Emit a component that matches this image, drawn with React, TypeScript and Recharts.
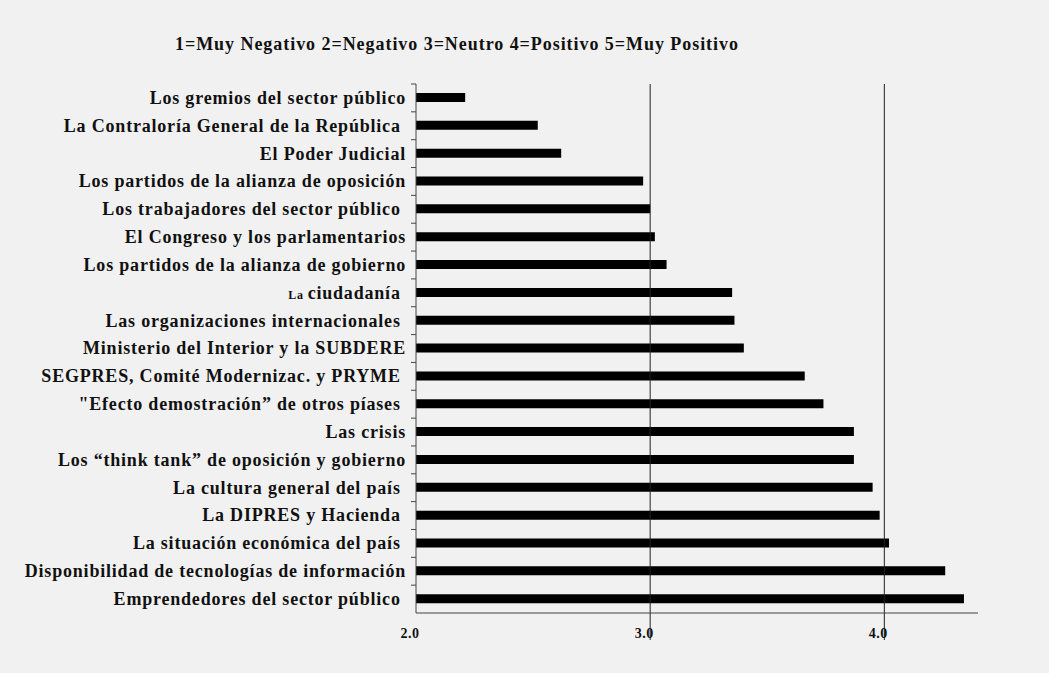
import React from 'react';
import { BarChart, Bar, XAxis, YAxis, ReferenceLine } from 'recharts';

const TITLE = '1=Muy Negativo 2=Negativo 3=Neutro 4=Positivo 5=Muy Positivo';

const categories = [
  'Los gremios del sector público',
  'La Contraloría General de la República ',
  'El Poder Judicial',
  'Los partidos de la alianza de oposición',
  'Los trabajadores del sector público ',
  'El Congreso y los parlamentarios',
  'Los partidos de la alianza de gobierno',
  'La ciudadanía ',
  'Las organizaciones internacionales ',
  'Ministerio del Interior y la SUBDERE',
  'SEGPRES, Comité Modernizac. y PRYME ',
  '"Efecto demostración” de otros píases ',
  'Las crisis',
  'Los “think tank” de oposición y gobierno',
  'La cultura general del país ',
  'La DIPRES y Hacienda ',
  'La situación económica del país ',
  'Disponibilidad de tecnologías de información',
  'Emprendedores del sector público ',
];

const values = [
  2.21, 2.52, 2.62, 2.97, 3.0, 3.02, 3.07, 3.35, 3.36, 3.4,
  3.66, 3.74, 3.87, 3.87, 3.95, 3.98, 4.02, 4.26, 4.34,
];

const xTicks = [2, 3, 4];
const gridValues = [3, 4];
const xDomain: [number, number] = [2, 4.4];

const data = categories.map((name, i) => ({ name, value: values[i] }));

const W = 1049;
const H = 673;
const MARGIN = { top: 84, right: 71, bottom: 30, left: 0 };
const Y_AXIS_W = 416;
const X_AXIS_H = 30;
const PLOT_H = H - MARGIN.top - MARGIN.bottom - X_AXIS_H;
const AXIS_X = MARGIN.left + Y_AXIS_W;
const AXIS_Y = H - MARGIN.bottom - X_AXIS_H;

const FONT = '"Liberation Serif", "Times New Roman", serif';
const AXIS_COLOR = '#444';

const YTick = (props: any) => {
  const { y, payload } = props;
  const step = PLOT_H / categories.length;
  const label: string = payload.value;
  const small = label.startsWith('La ciudadan');
  const ty = y - step / 2;
  return (
    <g>
      <line x1={AXIS_X - 5} x2={AXIS_X} y1={ty} y2={ty} stroke={AXIS_COLOR} strokeWidth={1} />
      <text
        x={AXIS_X - 10}
        y={y}
        dy="0.33em"
        textAnchor="end"
        fontFamily={FONT}
        fontWeight="bold"
        fontSize={18}
        letterSpacing={0.8}
        fill="#111"
        style={{ whiteSpace: 'pre' }}
      >
        {small ? (
          <>
            <tspan fontSize={12}>La </tspan>
            <tspan>{label.slice(3)}</tspan>
          </>
        ) : (
          label
        )}
      </text>
    </g>
  );
};

const XTick = (props: any) => {
  const { x, payload } = props;
  const v: number = payload.value;
  return (
    <g>
      {v > xDomain[0] && (
        <line x1={x} x2={x} y1={AXIS_Y} y2={AXIS_Y + 27} stroke="#222" strokeWidth={1} />
      )}
      <text
        x={x - 6}
        y={AXIS_Y + 25}
        textAnchor="middle"
        fontFamily={FONT}
        fontWeight="bold"
        fontSize={14}
        letterSpacing={0.5}
        fill="#111"
      >
        {v.toFixed(1)}
      </text>
    </g>
  );
};

export default function App() {
  return (
    <div
      style={{
        position: 'absolute',
        left: 0,
        top: 0,
        width: W,
        height: H,
        background: '#f1f1f1',
      }}
    >
      <div
        style={{
          position: 'absolute',
          left: 175,
          top: 34,
          fontFamily: FONT,
          fontWeight: 'bold',
          fontSize: 18,
          letterSpacing: 0.95,
          color: '#111',
          whiteSpace: 'nowrap',
        }}
      >
        {TITLE}
      </div>
      <BarChart width={W} height={H} data={data} layout="vertical" margin={MARGIN} barCategoryGap={0}>
        {gridValues.map((g) => (
          <ReferenceLine key={g} x={g} stroke="#222" strokeWidth={1} />
        ))}
        <XAxis
          type="number"
          domain={xDomain}
          ticks={xTicks}
          height={X_AXIS_H}
          axisLine={{ stroke: AXIS_COLOR }}
          tickLine={false}
          tick={<XTick />}
          allowDataOverflow
        />
        <YAxis
          type="category"
          dataKey="name"
          width={Y_AXIS_W}
          interval={0}
          axisLine={{ stroke: AXIS_COLOR }}
          tickLine={false}
          tick={<YTick />}
        />
        <Bar dataKey="value" fill="#000" barSize={9} isAnimationActive={false} />
      </BarChart>
    </div>
  );
}
